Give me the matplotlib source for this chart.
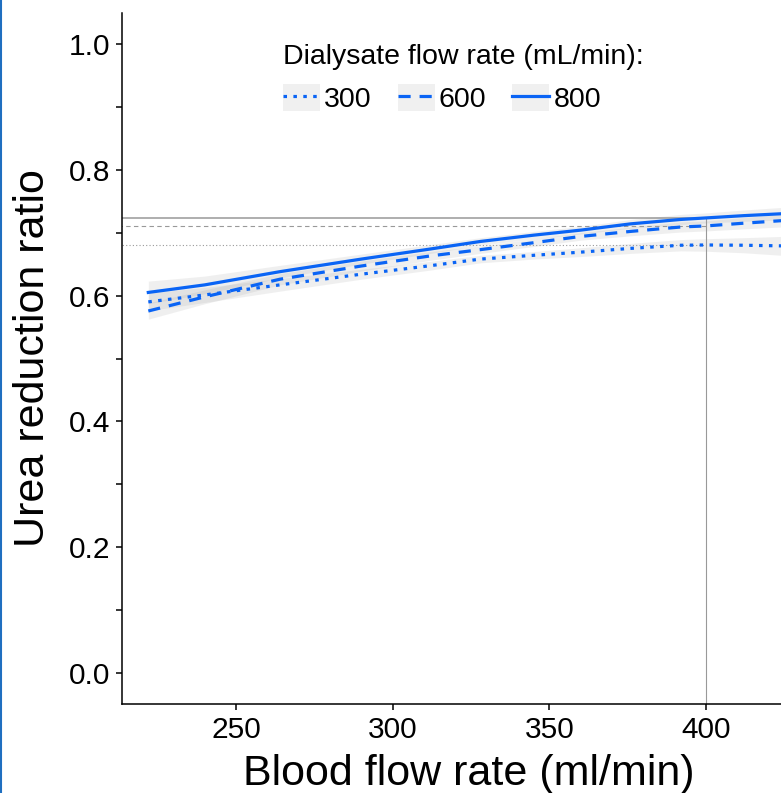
import matplotlib
matplotlib.use("Agg")
import matplotlib.pyplot as plt
from matplotlib.legend_handler import HandlerLine2D
from matplotlib.patches import Rectangle
from matplotlib.lines import Line2D
import numpy as np

plt.rcParams['font.family'] = ['Liberation Sans', 'DejaVu Sans']

# blood flow rate (ml/min)
blood_flow = [222, 240, 264, 290, 312, 328, 345, 360, 376, 392, 400, 412, 424, 436]

# fitted urea reduction ratio per dialysate flow rate
urr_300 = [0.590, 0.601, 0.617, 0.634, 0.6475, 0.658, 0.664, 0.669, 0.675, 0.680, 0.6804, 0.680, 0.679, 0.678]
urr_600 = [0.5755, 0.598, 0.626, 0.647, 0.663, 0.673, 0.684, 0.694, 0.702, 0.709, 0.7107, 0.715, 0.719, 0.722]
urr_800 = [0.605, 0.617, 0.638, 0.658, 0.674, 0.686, 0.696, 0.704, 0.714, 0.721, 0.7234, 0.727, 0.730, 0.731]

# half widths of the confidence bands
hw_300 = [0.014, 0.012, 0.010, 0.008, 0.007, 0.006, 0.006, 0.007, 0.008, 0.009, 0.010, 0.012, 0.015, 0.017]
hw_600 = [0.013, 0.011, 0.009, 0.008, 0.007, 0.006, 0.006, 0.006, 0.007, 0.008, 0.008, 0.009, 0.010, 0.012]
hw_800 = [0.018, 0.014, 0.010, 0.008, 0.007, 0.006, 0.006, 0.006, 0.007, 0.008, 0.008, 0.009, 0.010, 0.012]

dialysate_labels = ["300", "600", "800"]
ref_blood_flow = 400

BLUE = "#0a64f5"
GREY = "#999999"

series = [
    (urr_300, hw_300, (0, (1.1, 2.0))),
    (urr_600, hw_600, (0, (3.8, 2.8))),
    (urr_800, hw_800, "-"),
]
ref_styles = [(0, (1, 2)), (0, (4, 3)), "-"]
ref_widths = [0.8, 0.8, 1.1]


class BoxedLine(HandlerLine2D):
    # ggplot-like legend key: grey box behind the line
    def create_artists(self, legend, orig_handle, xdescent, ydescent,
                       width, height, fontsize, trans):
        bg = Rectangle((-xdescent, -ydescent), width, height,
                       facecolor="#f0f0f0", edgecolor="none", transform=trans)
        arts = super().create_artists(legend, orig_handle, xdescent, ydescent,
                                      width, height, fontsize, trans)
        return [bg] + list(arts)


fig = plt.figure(figsize=(7.81, 7.93), dpi=100)
# the panel runs past the right edge of the picture (cropped screenshot)
ax = fig.add_axes([0.1562, 0.1122, 0.8886, 0.8714])

x = np.array(blood_flow)
handles = []
ref_idx = blood_flow.index(ref_blood_flow)
for (y, hw, ls), rls, rlw in zip(series, ref_styles, ref_widths):
    y = np.array(y)
    hw = np.array(hw)
    ax.fill_between(x, y - hw, y + hw, color=GREY, alpha=0.15, lw=0, zorder=2)
    line, = ax.plot(x, y, color=BLUE, lw=2.3, linestyle=ls,
                    dash_capstyle="butt", zorder=3)
    handles.append(line)
    ax.plot([200, ref_blood_flow], [y[ref_idx], y[ref_idx]], color=GREY,
            lw=rlw, linestyle=rls, zorder=1)

ax.plot([ref_blood_flow, ref_blood_flow], [-0.1, urr_800[ref_idx]],
        color=GREY, lw=0.8, zorder=1)

ax.set_xlim(213.6, 435.1)
ax.set_ylim(-0.049, 1.049)
ax.set_xticks([250, 300, 350, 400])
ax.set_yticks(np.arange(0, 1.01, 0.1))
ax.set_yticklabels(["0.0", "", "0.2", "", "0.4", "", "0.6", "", "0.8", "", "1.0"])

for s in ["top", "right"]:
    ax.spines[s].set_visible(False)
for s in ["left", "bottom"]:
    ax.spines[s].set_linewidth(1.1)
ax.tick_params(axis="both", labelsize=21.5, width=1.1, length=4.3, pad=4.3)

ax.set_xlabel("Blood flow rate (ml/min)", fontsize=31, labelpad=7)
ax.set_ylabel("Urea reduction ratio", fontsize=31, labelpad=11)

leg = ax.legend(handles, dialysate_labels, title="Dialysate flow rate (mL/min):",
                ncol=3, frameon=False, fontsize=20.5, title_fontsize=20.5,
                handlelength=1.3, handleheight=1.05, handletextpad=0.15,
                columnspacing=0.9, borderpad=0, borderaxespad=0,
                alignment="left", loc="upper left",
                bbox_to_anchor=(0.232, 0.955),
                handler_map={Line2D: BoxedLine()})

# thin blue frame line at the left border of the screenshot
fig.add_artist(Line2D([0.0015, 0.0015], [0, 1], color="#1f6fc0", lw=1.5,
                      transform=fig.transFigure))

fig.savefig("out.png", dpi=100)
